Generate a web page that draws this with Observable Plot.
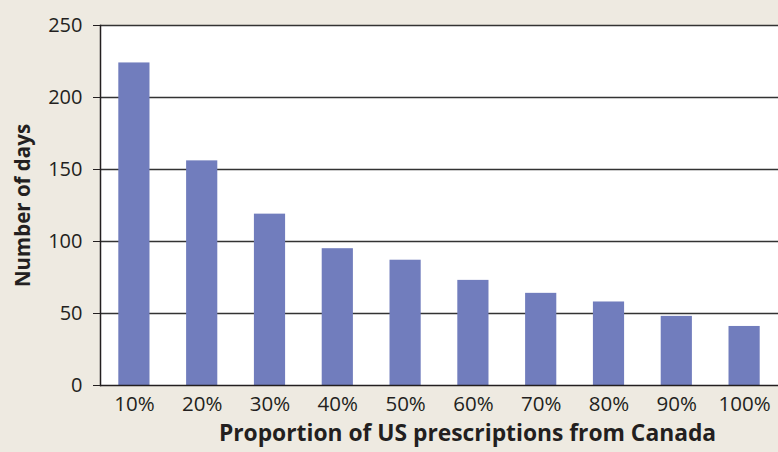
<!DOCTYPE html>
<html>
<head>
<meta charset="utf-8">
<script src="https://cdn.jsdelivr.net/npm/d3@7"></script>
<script src="https://cdn.jsdelivr.net/npm/@observablehq/plot@0.6"></script>
<style>
  html, body { margin: 0; padding: 0; background: #eeeae1; }
  #chart svg { display: block; }
</style>
</head>
<body>
<div id="chart"></div>
<script>
// Share of US prescriptions filled from Canada, and how many days reached each level
const proportions = ["10%", "20%", "30%", "40%", "50%", "60%", "70%", "80%", "90%", "100%"];
const days = [224, 156, 119, 95, 87, 73, 64, 58, 48, 41];
const yTicks = [0, 50, 100, 150, 200, 250];

const data = proportions.map((p, i) => ({proportion: p, days: days[i]}));

const fontFamily = "'Open Sans', 'Noto Sans', sans-serif";
const ink = "#231f20";

const chart = Plot.plot({
  width: 778,
  height: 452,
  marginLeft: 100,
  marginRight: 0,
  marginTop: 25,
  marginBottom: 67,
  style: {background: "#eeeae1", fontFamily, fontSize: "20px", color: ink},
  x: {domain: proportions, paddingInner: 0.54, paddingOuter: 0.27, round: false, label: null},
  y: {domain: [0, 250], ticks: yTicks, label: null},
  marks: [
    Plot.frame({fill: "white", stroke: null}),
    Plot.ruleY(yTicks.filter(d => d > 0), {stroke: "#333", strokeWidth: 1.3}),
    Plot.barY(data, {x: "proportion", y: "days", fill: "#717dbd"}),
    Plot.ruleY([0], {stroke: ink, strokeWidth: 1.5}),
    Plot.frame({anchor: "left", stroke: ink, strokeWidth: 1.5}),
    Plot.axisY({ticks: yTicks, tickSize: 7, tickPadding: 11, label: null, stroke: ink, fill: ink, fontSize: 20}),
    Plot.axisX({tickSize: 0, tickPadding: 11, label: null, fill: ink, fontSize: 20.5}),
    Plot.text(["Proportion of US prescriptions from Canada"], {
      frameAnchor: "bottom", dx: 28, dy: 55, fontWeight: "bold", fontSize: 22.8, fill: ink
    }),
    Plot.text(["Number of days"], {
      frameAnchor: "left", textAnchor: "middle", dx: -77.5, rotate: -90,
      fontWeight: "bold", fontSize: 20.5, fill: ink
    })
  ]
});

document.getElementById("chart").appendChild(chart);
</script>
</body>
</html>
